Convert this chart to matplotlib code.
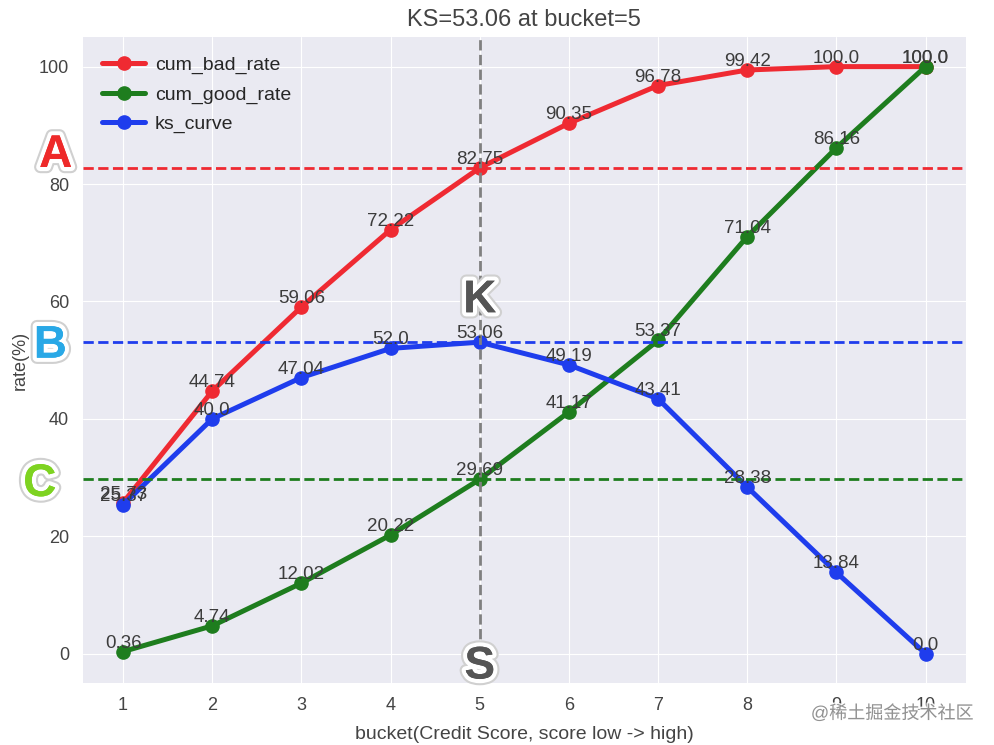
import matplotlib.pyplot as plt
import matplotlib.patheffects as pe

buckets = [1, 2, 3, 4, 5, 6, 7, 8, 9, 10]
cum_bad_rate = [25.73, 44.74, 59.06, 72.22, 82.75, 90.35, 96.78, 99.42, 100.0, 100.0]
cum_good_rate = [0.36, 4.74, 12.02, 20.22, 29.69, 41.17, 53.37, 71.04, 86.16, 100.0]
ks_curve = [25.37, 40.0, 47.04, 52.0, 53.06, 49.19, 43.41, 28.38, 13.84, 0.0]
ks_bucket = 5
ks_value = 53.06

plt.style.use('seaborn-v0_8-darkgrid')
plt.rcParams['font.family'] = ['Liberation Sans', 'Noto Sans CJK SC', 'DejaVu Sans']

fig = plt.figure(figsize=(9.95, 7.45), dpi=100)
ax = fig.add_axes([0.0834, 0.0832, 0.8871, 0.8668])

series = [(cum_bad_rate, '#ef2a32', 'cum_bad_rate'),
          (cum_good_rate, '#1e7d1e', 'cum_good_rate'),
          (ks_curve, '#1f3ded', 'ks_curve')]
for ys, c, name in series:
    ax.plot(buckets, ys, '-o', color=c, lw=3.6, ms=9.5, label=name)
    for x, y in zip(buckets, ys):
        ax.text(x, y, str(y), ha='center', va='bottom', fontsize=13.5, color='#3c3c3c')

# KS 参考线
bad_at_ks = cum_bad_rate[buckets.index(ks_bucket)]
good_at_ks = cum_good_rate[buckets.index(ks_bucket)]
ax.axhline(bad_at_ks, color='#ef2a32', ls='--', lw=2)
ax.axhline(ks_value, color='#1f3ded', ls='--', lw=2)
ax.axhline(good_at_ks, color='#1e7d1e', ls='--', lw=2)
ax.axvline(ks_bucket, color='grey', ls='--', lw=2)

ax.set_xticks(buckets)
ax.set_yticks([0, 20, 40, 60, 80, 100])
ax.tick_params(labelsize=13, pad=10, colors='#444444')
ax.set_xlabel('bucket(Credit Score, score low -> high)', fontsize=14, color='#444444', labelpad=9)
ax.set_ylabel('rate(%)', fontsize=13, color='#444444', labelpad=7)
ax.set_title(f'KS={ks_value} at bucket={ks_bucket}', fontsize=17, color='#444444', pad=8)
ax.legend(loc='upper left', fontsize=14, frameon=False, handlelength=2.2,
          borderaxespad=0.6, labelspacing=0.6, handletextpad=0.5)

# 大字母标注
fx = [pe.withStroke(linewidth=9, foreground='#d0d0d0'), pe.withStroke(linewidth=6, foreground='white'), pe.Normal()]
letters = [('A', 0.43, bad_at_ks + 2.2, '#ee2a2a'),
           ('B', 0.37, ks_value - 0.6, '#29a8e6'),
           ('C', 0.25, good_at_ks - 0.8, '#7ed321')]
for t, xx, yy, c in letters:
    ax.text(xx, yy, t, fontsize=33, fontweight='bold', color=c,
            ha='right', va='center', path_effects=fx, clip_on=False)
ax.text(ks_bucket, 60.2, 'K', fontsize=33, fontweight='bold', color='#555555',
        ha='center', va='center', path_effects=fx)
ax.text(ks_bucket, -2.2, 'S', fontsize=33, fontweight='bold', color='#555555',
        ha='center', va='center', path_effects=fx, clip_on=False)

fig.text(0.978, 0.042, '@稀土掘金技术社区', fontsize=13, color='#888888', ha='right', va='center',
         alpha=0.9, path_effects=[pe.withStroke(linewidth=2, foreground='white')])

fig.savefig('out.png', dpi=100)
